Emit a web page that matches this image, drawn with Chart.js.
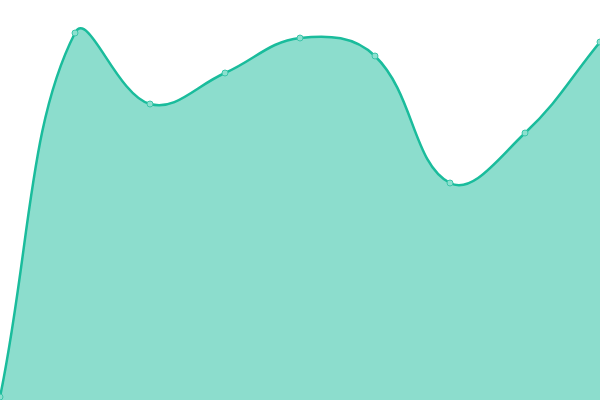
<!DOCTYPE html>
<html>
<head>
<meta charset="utf-8">
<script src="https://cdn.jsdelivr.net/npm/chart.js@4"></script>
<style>
  html, body { margin: 0; padding: 0; background: #fff; }
  #wrap { width: 600px; height: 400px; }
</style>
</head>
<body>
<div id="wrap"><canvas id="areaChart"></canvas></div>
<script>
var labels = ["A", "B", "C", "D", "E", "F", "G", "H", "I"];
var values = [3, 367, 296, 327, 362, 344, 217, 267, 358];

var ctx = document.getElementById('areaChart').getContext('2d');
var chart = new Chart(ctx, {
    type: 'line',
    data: {
        labels: labels,
        datasets: [{
            data: values,
            fill: true,
            tension: 0.4,
            borderColor: '#1abc9c',
            backgroundColor: 'rgba(26, 188, 156, 0.5)',
            borderWidth: 2.5,
            pointRadius: 3,
            pointBackgroundColor: '#8de0cf',
            pointBorderColor: '#3cc5a9',
            pointBorderWidth: 1
        }]
    },
    options: {
        responsive: true,
        maintainAspectRatio: false,
        animation: false,
        layout: { padding: 0, autoPadding: false },
        plugins: {
            legend: { display: false },
            tooltip: { enabled: false }
        },
        scales: {
            x: { display: false, offset: false },
            y: { display: false, min: 0, max: 400 }
        }
    }
});
</script>
</body>
</html>
